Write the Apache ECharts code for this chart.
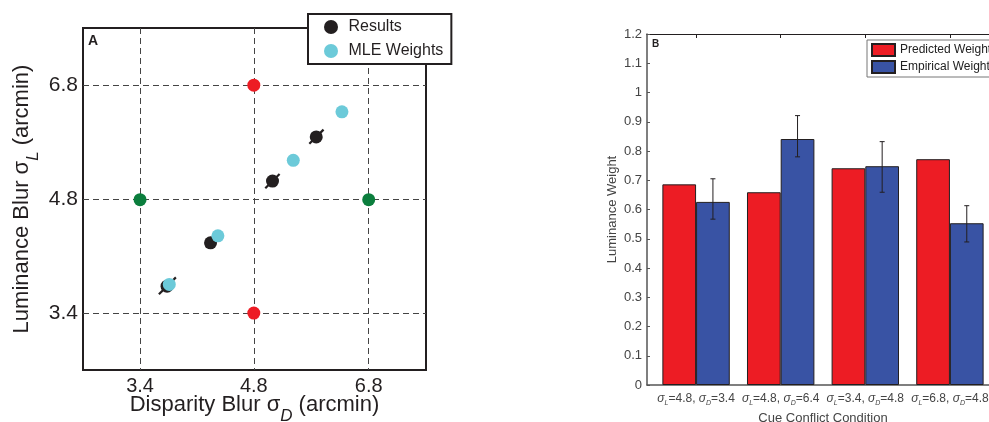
<!DOCTYPE html>
<html>
<head>
<meta charset="utf-8">
<script src="https://cdn.jsdelivr.net/npm/echarts@6/dist/echarts.min.js"></script>
<style>
  html, body { margin: 0; padding: 0; background: #fff; }
  #main { width: 989px; height: 422px; }
</style>
</head>
<body>
<div id="main"></div>
<script>
// ---- Panel A: blur levels in arcmin (log-spaced axes) ----
const blurTicks = [3.4, 4.8, 6.8];
const blurRange = [2.86, 8.09];
const lumConflict = [[4.8, 6.8], [4.8, 3.4]];
const dispConflict = [[3.4, 4.8], [6.8, 4.8]];
const results = [[3.69, 3.69], [4.21, 4.21], [5.08, 5.08], [5.80, 5.81]];
const resultsErrLo = [[3.60, 3.60], [4.15, 4.15], [4.97, 4.97], [5.68, 5.69]];
const resultsErrHi = [[3.79, 3.79], [4.28, 4.28], [5.19, 5.19], [5.93, 5.94]];
const mleWeights = [[3.715, 3.71], [4.305, 4.30], [5.41, 5.41], [6.27, 6.27]];

// ---- Panel B: luminance weight per cue conflict condition ----
const conditionLum = ['4.8', '4.8', '3.4', '6.8'];
const conditionDisp = ['3.4', '6.4', '4.8', '4.8'];
const predictedWeight = [0.686, 0.659, 0.741, 0.772];
const empiricalWeight = [0.626, 0.841, 0.748, 0.553];
const empiricalLo = [0.567, 0.780, 0.659, 0.489];
const empiricalHi = [0.705, 0.921, 0.832, 0.613];
const conditionPos = [1, 2, 3, 4];

const FONT = '"Liberation Sans", Arial, Helvetica, sans-serif';
const INK = '#231f20';
const BAR_W = 33.7;

const chart = echarts.init(document.getElementById('main'));

// Axis title with a lowered italic subscript (tall line box, subscript pinned to its bottom)
const subRich = () => ({
  m: { fontSize: 22, fontFamily: FONT, color: INK, lineHeight: 40, verticalAlign: 'middle' },
  s: { fontSize: 17, fontFamily: FONT, color: INK, fontStyle: 'italic', lineHeight: 10, verticalAlign: 'bottom' }
});

const blurLabel = (size, margin) => ({
  customValues: blurTicks,
  formatter: v => Number(v).toFixed(1),
  fontSize: size,
  fontFamily: FONT,
  color: INK,
  margin: margin
});

const blurAxis = (extra) => Object.assign({
  type: 'log',
  logBase: 10,
  gridIndex: 0,
  min: blurRange[0],
  max: blurRange[1],
  axisLine: { show: false },
  axisTick: { show: false, customValues: blurTicks },
  splitLine: { show: true, lineStyle: { type: [6, 4], color: '#444', width: 1 } },
  nameLocation: 'middle',
  nameMoveOverlap: false
}, extra);

const xName = '{m|Disparity Blur σ}{s|D}{m| (arcmin)}';
const yName = '{m|Luminance Blur σ}{s|L}{m| (arcmin)}';

const option = {
  animation: false,
  backgroundColor: '#fff',
  textStyle: { fontFamily: FONT },
  grid: [
    { left: 83, top: 28, width: 343, height: 342, outerBoundsMode: 'none', containLabel: false,
      show: true, borderColor: INK, borderWidth: 2, backgroundColor: 'transparent' },
    { left: 647, top: 34, right: -10, bottom: 37, outerBoundsMode: 'none', containLabel: false }
  ],
  xAxis: [
    blurAxis({
      axisLabel: blurLabel(20, 6),
      name: xName, nameGap: 15,
      nameTextStyle: { rich: subRich() }
    }),
    {
      type: 'value', gridIndex: 1, min: 0.42, max: 4.58,
      axisLine: { show: true, lineStyle: { color: '#555', width: 1.5 } },
      axisTick: { show: false, customValues: conditionPos },
      splitLine: { show: false },
      axisLabel: {
        customValues: conditionPos,
        margin: 6,
        formatter: v => {
          const i = Math.round(v) - 1;
          return '{g|σ}{s|L}{m|=' + conditionLum[i] + ', }{g|σ}{s|D}{m|=' + conditionDisp[i] + '}';
        },
        rich: {
          m: { fontSize: 12, fontFamily: FONT, color: '#444', lineHeight: 16, verticalAlign: 'middle' },
          g: { fontSize: 12, fontFamily: FONT, color: '#444', fontStyle: 'italic', lineHeight: 16, verticalAlign: 'middle' },
          s: { fontSize: 7, fontFamily: FONT, color: '#444', fontStyle: 'italic', lineHeight: 7, verticalAlign: 'bottom' }
        }
      },
      name: 'Cue Conflict Condition', nameLocation: 'middle', nameGap: 24,
      nameTextStyle: { fontSize: 13, fontFamily: FONT, color: '#444' }
    },
    {
      type: 'value', gridIndex: 1, min: 0.42, max: 4.58, position: 'top',
      axisLine: { show: true, lineStyle: { color: INK, width: 1 } },
      axisTick: { show: true, inside: true, length: 4, customValues: conditionPos, lineStyle: { color: INK } },
      axisLabel: { show: false },
      splitLine: { show: false }
    }
  ],
  yAxis: [
    blurAxis({
      axisLabel: blurLabel(21, 5),
      name: yName, nameGap: 41,
      nameTextStyle: { rich: subRich() }
    }),
    {
      type: 'value', gridIndex: 1, min: 0, max: 1.2, interval: 0.1,
      axisLine: { show: true, lineStyle: { color: '#555', width: 1.5 } },
      axisTick: { show: true, inside: true, length: 3, lineStyle: { color: '#555' } },
      axisLabel: { fontSize: 13, fontFamily: FONT, color: '#444', margin: 5 },
      splitLine: { show: false },
      name: 'Luminance Weight', nameLocation: 'middle', nameGap: 28,
      nameTextStyle: { fontSize: 13, fontFamily: FONT, color: '#444' }
    }
  ],
  legend: [
    {
      data: ['Results', 'MLE Weights'],
      orient: 'vertical',
      left: 308, top: 14,
      icon: 'circle',
      itemWidth: 25, itemHeight: 14, itemGap: 8,
      padding: [5, 8, 5, 16],
      borderColor: INK, borderWidth: 2, backgroundColor: '#fff',
      textStyle: { fontSize: 16, fontFamily: FONT, color: INK, lineHeight: 14 },
      selectedMode: false
    },
    {
      data: ['Predicted Weight', 'Empirical Weight'],
      orient: 'vertical',
      left: 867, top: 40,
      icon: 'rect',
      itemWidth: 23, itemHeight: 12, itemGap: 3,
      padding: [3, 6, 3, 4],
      borderColor: '#777', borderWidth: 1, backgroundColor: '#fff',
      textStyle: { fontSize: 12, fontFamily: FONT, color: '#222', lineHeight: 12 },
      selectedMode: false
    }
  ],
  graphic: [
    { type: 'text', left: 88, top: 34, style: { text: 'A', font: 'bold 14px ' + FONT, fill: INK } },
    { type: 'text', left: 652, top: 39, style: { text: 'B', font: 'bold 10px ' + FONT, fill: INK } }
  ],
  series: [
    {
      name: 'Results error',
      type: 'custom',
      xAxisIndex: 0, yAxisIndex: 0,
      data: resultsErrLo.map((lo, i) => [lo[0], lo[1], resultsErrHi[i][0], resultsErrHi[i][1]]),
      encode: { x: [0, 2], y: [1, 3] },
      renderItem: (params, api) => {
        const a = api.coord([api.value(0), api.value(1)]);
        const b = api.coord([api.value(2), api.value(3)]);
        return { type: 'line', shape: { x1: a[0], y1: a[1], x2: b[0], y2: b[1] }, style: { stroke: INK, lineWidth: 2.2 } };
      },
      z: 3
    },
    {
      name: 'Luminance conflict', type: 'scatter', xAxisIndex: 0, yAxisIndex: 0,
      data: lumConflict, symbolSize: 13, itemStyle: { color: '#ed1c24', opacity: 1 }, z: 3
    },
    {
      name: 'Disparity conflict', type: 'scatter', xAxisIndex: 0, yAxisIndex: 0,
      data: dispConflict, symbolSize: 13, itemStyle: { color: '#0b7e3d', opacity: 1 }, z: 3
    },
    {
      name: 'Results', type: 'scatter', xAxisIndex: 0, yAxisIndex: 0,
      data: results, symbolSize: 13, itemStyle: { color: INK, opacity: 1 }, z: 4
    },
    {
      name: 'MLE Weights', type: 'scatter', xAxisIndex: 0, yAxisIndex: 0,
      data: mleWeights, symbolSize: 13, itemStyle: { color: '#6ccad9', opacity: 1 }, z: 5
    },
    {
      name: 'Predicted Weight', type: 'bar', xAxisIndex: 1, yAxisIndex: 1,
      data: predictedWeight.map((v, i) => [conditionPos[i], v]),
      barWidth: BAR_W, barGap: '0%',
      itemStyle: { color: '#ed1c24', borderColor: INK, borderWidth: 1 }
    },
    {
      name: 'Empirical Weight', type: 'bar', xAxisIndex: 1, yAxisIndex: 1,
      data: empiricalWeight.map((v, i) => [conditionPos[i], v]),
      barWidth: BAR_W, barGap: '0%',
      itemStyle: { color: '#3953a4', borderColor: INK, borderWidth: 1 }
    },
    {
      name: 'Empirical error', type: 'custom', xAxisIndex: 1, yAxisIndex: 1,
      data: empiricalLo.map((lo, i) => [conditionPos[i], lo, empiricalHi[i]]),
      encode: { x: 0, y: [1, 2] },
      renderItem: (params, api) => {
        const lo = api.coord([api.value(0), api.value(1)]);
        const hi = api.coord([api.value(0), api.value(2)]);
        const x = lo[0] + BAR_W / 2;
        const cap = 2.5;
        const st = { stroke: INK, lineWidth: 1 };
        return {
          type: 'group',
          children: [
            { type: 'line', shape: { x1: x, y1: lo[1], x2: x, y2: hi[1] }, style: st },
            { type: 'line', shape: { x1: x - cap, y1: lo[1], x2: x + cap, y2: lo[1] }, style: st },
            { type: 'line', shape: { x1: x - cap, y1: hi[1], x2: x + cap, y2: hi[1] }, style: st }
          ]
        };
      },
      z: 5
    }
  ]
};

chart.setOption(option);
</script>
</body>
</html>
